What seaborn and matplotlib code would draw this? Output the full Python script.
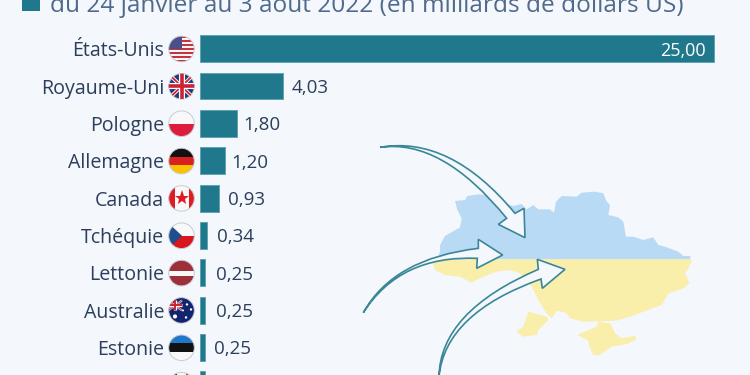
import matplotlib
matplotlib.use("Agg")
import matplotlib.pyplot as plt
import pandas as pd
import seaborn as sns
from matplotlib.patches import Circle, PathPatch, Polygon, Rectangle
from matplotlib.path import Path

countries = ["États-Unis", "Royaume-Uni", "Pologne", "Allemagne", "Canada",
             "Tchéquie", "Lettonie", "Australie", "Estonie", "France"]
values = [25.00, 4.03, 1.80, 1.20, 0.93, 0.34, 0.25, 0.25, 0.25, 0.23]
value_labels = ["25,00", "4,03", "1,80", "1,20", "0,93", "0,34", "0,25", "0,25", "0,25", "0,23"]
label_gaps = [0, 9, 6.5, 7, 8.5, 10, 11, 10.5, 8.5, 8]

subtitle = "du 24 janvier au 3 août 2022 (en milliards de dollars US)"

BG = "#f4f7fb"
BAR = "#20788c"
TEXT = "#2b3f5c"
SUBTITLE = "#4f6a8c"
ARROW = "#3a8798"
PX_PER_UNIT = 20.56
ROW = 37.35

# map outline, traced in a 1200x735 frame over the lower right of the picture
map_north = [(270, 345), (285, 318), (330, 292), (335, 265), (322, 240), (315, 213), (345, 210),
             (352, 198), (385, 193), (410, 195), (440, 215), (470, 222), (490, 228), (515, 222),
             (530, 238), (550, 225), (565, 238), (600, 238), (612, 248), (618, 215), (635, 198),
             (680, 200), (695, 188), (735, 185), (760, 190), (770, 215), (780, 225), (775, 255),
             (805, 262), (820, 275), (828, 320), (850, 320), (880, 330), (910, 322), (925, 345),
             (945, 350), (985, 365), (1000, 378), (1022, 378), (1020, 388), (262, 388), (270, 365)]
map_south = [(245, 388), (1027, 388), (1015, 415), (1005, 430), (1018, 460), (1000, 475), (955, 490),
             (935, 525), (880, 545), (840, 560), (800, 572), (700, 575), (660, 565), (648, 548),
             (620, 542), (605, 565), (590, 550), (565, 510), (545, 470), (510, 430), (480, 420),
             (440, 425), (400, 440), (365, 458), (330, 440), (285, 435), (255, 420)]
map_odesa = [(535, 545), (590, 560), (595, 570), (565, 600), (560, 615), (520, 620), (498, 605), (520, 590)]
map_crimea = [(682, 615), (740, 590), (745, 575), (780, 580), (795, 610), (815, 625), (855, 618),
              (860, 628), (830, 642), (785, 650), (750, 675), (730, 675), (718, 650), (715, 632)]

sns.set_theme(style="white")
plt.rcParams["font.family"] = ["Open Sans", "DejaVu Sans"]

df = pd.DataFrame({"pays": countries, "valeur": values})

fig = plt.figure(figsize=(7.5, 3.75), dpi=100, facecolor=BG)
ax = fig.add_axes([0, 0, 1, 1])
ax.set_facecolor(BG)
sns.barplot(data=df, x="valeur", y="pays", color=BAR, saturation=1, width=0.72,
            gap=0, edgecolor="#5a9fb0", linewidth=0.6, ax=ax)
ax.set_xlim(-200 / PX_PER_UNIT, 550 / PX_PER_UNIT)
ax.set_ylim((375 - 48.7) / ROW, -48.7 / ROW)
ax.axis("off")

# the tenth row is cut by the bottom edge: only its bar and flag show
for i, (name, val, lab, gap) in enumerate(list(zip(countries, values, value_labels, label_gaps))[:9]):
    ax.text(-36 / PX_PER_UNIT, i, name, ha="right", va="center_baseline", fontsize=14.1, color=TEXT)
    if i == 0:
        ax.text(val - 8 / PX_PER_UNIT, i, lab, ha="right", va="center_baseline", fontsize=13, color="white")
    else:
        ax.text(val + gap / PX_PER_UNIT, i, lab, ha="left", va="center_baseline", fontsize=13.5, color=TEXT)

# pixel layer for the subtitle key and the flags
px = fig.add_axes([0, 0, 1, 1])
px.set_xlim(0, 750)
px.set_ylim(375, 0)
px.axis("off")
px.add_patch(Rectangle((22, -5), 18, 16, color=BAR, lw=0))
px.text(50, 11.5, subtitle, fontsize=17.6, color=SUBTITLE, va="baseline")


def rect(x0, y0, w, h, color, clip):
    r = Rectangle((x0, y0), w, h, color=color, lw=0)
    px.add_patch(r)
    r.set_clip_path(clip)
    return r


def line(xs, ys, color, lw, clip):
    l, = px.plot(xs, ys, color=color, lw=lw, solid_capstyle="butt")
    l.set_clip_path(clip)


def stripes(cy, colors, clip):
    h = 26 / len(colors)
    for k, c in enumerate(colors):
        rect(168, cy - 13 + k * h, 27, h + 0.3, c, clip)


def union_jack(x0, y0, x1, y1, clip, lw=1.0):
    line([x0, x1], [y0, y1], "white", lw * 2, clip)
    line([x0, x1], [y1, y0], "white", lw * 2, clip)
    line([x0, x1], [y0, y1], "#cc2233", lw, clip)
    line([x0, x1], [y1, y0], "#cc2233", lw, clip)
    xm, ym = (x0 + x1) / 2, (y0 + y1) / 2
    line([xm, xm], [y0, y1], "white", lw * 3.4, clip)
    line([x0, x1], [ym, ym], "white", lw * 3.4, clip)
    line([xm, xm], [y0, y1], "#cc2233", lw * 2, clip)
    line([x0, x1], [ym, ym], "#cc2233", lw * 2, clip)


for i, name in enumerate(countries):
    cy = 49 + ROW * i
    clip = Circle((181.5, cy), 12.8, transform=px.transData)
    if name == "États-Unis":
        stripes(cy, ["#c8323f", "#f6f6f6"] * 6 + ["#c8323f"], clip)
        rect(168, cy - 13, 14, 13, "#4a4f8c", clip)
    elif name == "Royaume-Uni":
        rect(168, cy - 13, 27, 26, "#1f3a7a", clip)
        union_jack(168, cy - 13, 195, cy + 13, clip, lw=1.3)
    elif name == "Pologne":
        stripes(cy, ["#f8f8f8", "#dc1c3c"], clip)
    elif name == "Allemagne":
        stripes(cy, ["#111111", "#d9201f", "#f8c400"], clip)
    elif name == "Canada":
        rect(168, cy - 13, 27, 26, "#f8f8f8", clip)
        rect(168, cy - 13, 6.5, 26, "#e01b24", clip)
        rect(188.5, cy - 13, 6.5, 26, "#e01b24", clip)
        px.plot([181.5], [cy], marker="*", ms=11, color="#e01b24", mew=0, zorder=5)
    elif name == "Tchéquie":
        stripes(cy, ["#f8f8f8", "#d8161e"], clip)
        p = Polygon([(168, cy - 13), (182, cy), (168, cy + 13)], color="#1f4e8c", lw=0)
        px.add_patch(p)
        p.set_clip_path(clip)
    elif name == "Lettonie":
        stripes(cy, ["#9e3039", "#9e3039", "#f8f8f8", "#9e3039", "#9e3039"], clip)
    elif name == "Australie":
        rect(168, cy - 13, 27, 26, "#12246e", clip)
        union_jack(168, cy - 10, 182, cy, clip, lw=0.7)
        px.scatter([175, 187, 191, 186, 183], [cy + 6, cy - 6, cy - 1, cy + 7, cy], s=[9, 3, 3, 3, 2],
                   color="white", linewidths=0, zorder=5)
    elif name == "Estonie":
        stripes(cy, ["#1f78c8", "#111111", "#f8f8f8"], clip)
    else:
        rect(168, cy - 13, 9, 26, "#1f3f8c", clip)
        rect(177, cy - 13, 9, 26, "#f8f8f8", clip)
        rect(186, cy - 13, 9, 26, "#e01b24", clip)
    px.add_patch(Circle((181.5, cy), 12.8, fill=False, ec="#c8ccd2", lw=0.7))

# map and arrows
m = fig.add_axes([350 / 750, 0, 400 / 750, 245 / 375])
m.set_xlim(0, 1200)
m.set_ylim(735, 0)
m.axis("off")
m.add_patch(Polygon(map_north, color="#b9daf5", lw=0))
for part in (map_south, map_odesa, map_crimea):
    m.add_patch(Polygon(part, color="#f9eeaa", lw=0))


def arrow(tail, ctrl_up, neck_up, head_up, tip, head_low, neck_low, ctrl_low):
    verts = [tail, ctrl_up, neck_up, head_up, tip, head_low, neck_low, ctrl_low, tail, tail]
    codes = [Path.MOVETO, Path.CURVE3, Path.CURVE3, Path.LINETO, Path.LINETO, Path.LINETO,
             Path.LINETO, Path.CURVE3, Path.CURVE3, Path.CLOSEPOLY]
    m.add_patch(PathPatch(Path(verts, codes), fc=BG, ec=ARROW, lw=1.2, joinstyle="miter", clip_on=False))


arrow((90, 52), (300, 15), (495, 250), (522, 235), (525, 323), (445, 283), (470, 265), (275, 25))
arrow((40, 548), (130, 385), (385, 355), (385, 328), (458, 375), (380, 415), (382, 385), (150, 375))
arrow((267, 740), (270, 545), (565, 418), (562, 388), (645, 418), (577, 475), (573, 447), (285, 550))

fig.savefig("out.png", dpi=100, facecolor=BG)
